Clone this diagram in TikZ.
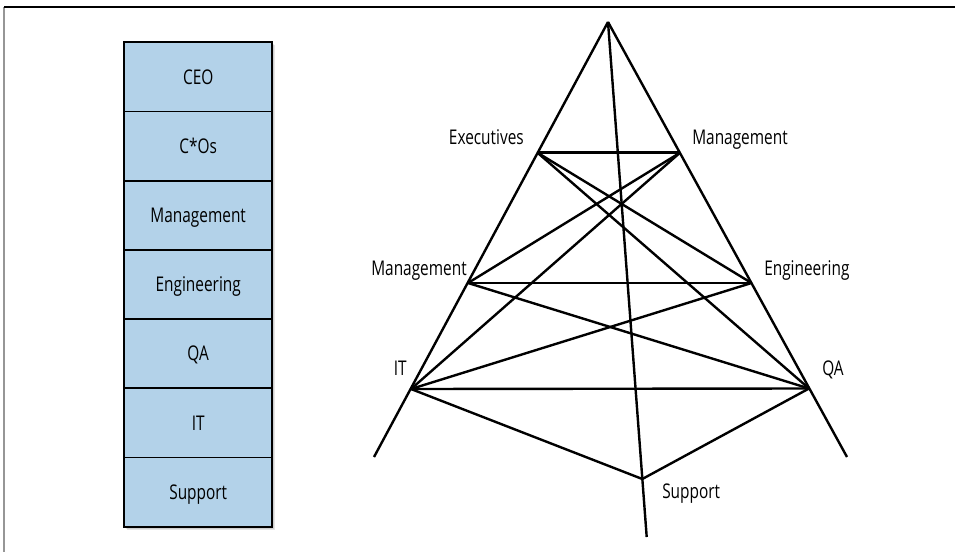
\documentclass[tikz,border=0pt]{standalone}
\usepackage{fontspec}
\setmainfont{Open Sans}[FakeStretch=0.76]
\definecolor{boxblue}{RGB}{179,210,233}
\definecolor{framegray}{RGB}{150,150,150}
\begin{document}
\begin{tikzpicture}[x=0.75pt,y=-0.75pt,
  lbl/.style={inner sep=0pt, font=\fontsize{15.2}{18}\selectfont},
  tier/.style={draw=black, line width=1.4pt, fill=boxblue, minimum width=111.2pt,
    minimum height=51.9pt, inner sep=0pt, text height=10.8pt, text depth=0pt,
    font=\fontsize{15.2}{18}\selectfont},
  link/.style={line width=1.8pt},
  shadowbox/.style={fill=black, fill opacity=0.1, draw=none}]
\useasboundingbox (0,0) rectangle (955,552);
% frame
\draw[framegray, line width=1pt] (4,7) -- (4,552);
\draw[black, line width=1pt] (4,7) -- (955,7);
% shadow of the stack
\foreach \k in {1,2,3}
  \fill[shadowbox] (124+\k,42.3+\k) rectangle (272.3+\k,526.7+\k);
% stack of tiers
\node[tier] (ceo) at (198.2,76.9) {CEO};
\node[tier] (cos) at (198.2,146.1) {C*Os};
\node[tier] (mgmt) at (198.2,215.3) {Management};
\node[tier] (engb) at (198.2,284.5) {Engineering};
\node[tier] (qab) at (198.2,353.7) {QA};
\node[tier] (itb) at (198.2,422.9) {IT};
\node[tier] (supb) at (198.2,492.1) {Support};
% triangle points
\coordinate (apex) at (608,22);
\coordinate (lend) at (374,457);
\coordinate (rend) at (847,457);
\coordinate (mend) at (646.7,537);
\coordinate (exec) at (537.5,152.7);
\coordinate (mgt) at (680,152.7);
\coordinate (mgl) at (468,283);
\coordinate (eng) at (751.5,283);
\coordinate (it) at (411,389);
\coordinate (qa) at (809,388.5);
\coordinate (sup) at (642.3,479);
% frame lines
\draw[link] (apex) -- (lend);
\draw[link] (apex) -- (rend);
\draw[link] (apex) -- (mend);
% connections
\draw[link] (exec) -- (mgt);
\draw[link] (exec) -- (eng);
\draw[link] (exec) -- (qa);
\draw[link] (mgt) -- (mgl);
\draw[link] (mgt) -- (it);
\draw[link] (mgl) -- (eng);
\draw[link] (mgl) -- (qa);
\draw[link] (it) -- (eng);
\draw[link] (it) -- (qa);
\draw[link] (it) -- (sup);
\draw[link] (qa) -- (sup);
% labels
\node[lbl, anchor=base east] (lexec) at (524,145) {Executives};
\node[lbl, anchor=base west] (lmgt) at (692,145) {Management};
\node[lbl, anchor=base east] (lmgl) at (467,275) {Management};
\node[lbl, anchor=base west] (leng) at (764,275) {Engineering};
\node[lbl, anchor=base east] (lit) at (407,375) {IT};
\node[lbl, anchor=base west] (lqa) at (822,375) {QA};
\node[lbl, anchor=base west] (lsup) at (662,498) {Support};
\end{tikzpicture}
\end{document}
